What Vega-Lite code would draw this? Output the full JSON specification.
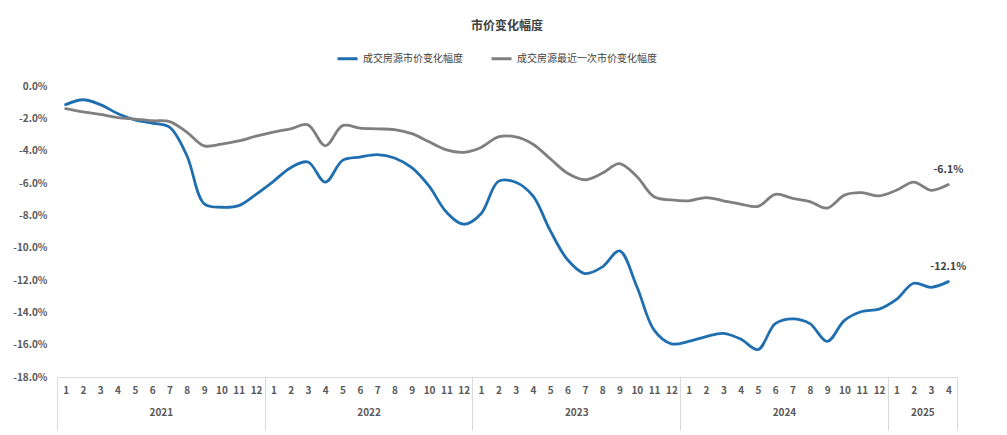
{
  "$schema": "https://vega.github.io/schema/vega-lite/v6.json",
  "autosize": {"type": "none"},
  "padding": {"left": 57, "top": 86, "right": 50, "bottom": 58},
  "width": 900,
  "height": 291,
  "background": "white",
  "title": {"text": "市价变化幅度", "anchor": "middle", "fontSize": 12, "fontWeight": "bold", "color": "#404040", "font": "Noto Sans CJK SC", "offset": 14},
  "config": {
    "view": {"stroke": null},
    "locale": {"number": {"decimal": ".", "thousands": ",", "grouping": [3], "currency": ["$", ""], "minus": "-"}},
    "axis": {"labelFont": "Noto Sans CJK SC", "labelFontWeight": "bold", "labelColor": "#595959", "labelFontSize": 10, "grid": false, "title": null},
    "axisY": {"labelOverlap": false, "labelBound": false, "labelFlush": false}
  },
  "data": {"values": [
    {"i":0,"month":"2021-01","series":"成交房源市价变化幅度","value":-0.0115},
    {"i":1,"month":"2021-02","series":"成交房源市价变化幅度","value":-0.0085},
    {"i":2,"month":"2021-03","series":"成交房源市价变化幅度","value":-0.0115},
    {"i":3,"month":"2021-04","series":"成交房源市价变化幅度","value":-0.017},
    {"i":4,"month":"2021-05","series":"成交房源市价变化幅度","value":-0.021},
    {"i":5,"month":"2021-06","series":"成交房源市价变化幅度","value":-0.023},
    {"i":6,"month":"2021-07","series":"成交房源市价变化幅度","value":-0.0255},
    {"i":7,"month":"2021-08","series":"成交房源市价变化幅度","value":-0.043},
    {"i":8,"month":"2021-09","series":"成交房源市价变化幅度","value":-0.0728},
    {"i":9,"month":"2021-10","series":"成交房源市价变化幅度","value":-0.075},
    {"i":10,"month":"2021-11","series":"成交房源市价变化幅度","value":-0.074},
    {"i":11,"month":"2021-12","series":"成交房源市价变化幅度","value":-0.067},
    {"i":12,"month":"2022-01","series":"成交房源市价变化幅度","value":-0.059},
    {"i":13,"month":"2022-02","series":"成交房源市价变化幅度","value":-0.0505},
    {"i":14,"month":"2022-03","series":"成交房源市价变化幅度","value":-0.047},
    {"i":15,"month":"2022-04","series":"成交房源市价变化幅度","value":-0.0595},
    {"i":16,"month":"2022-05","series":"成交房源市价变化幅度","value":-0.046},
    {"i":17,"month":"2022-06","series":"成交房源市价变化幅度","value":-0.044},
    {"i":18,"month":"2022-07","series":"成交房源市价变化幅度","value":-0.0425},
    {"i":19,"month":"2022-08","series":"成交房源市价变化幅度","value":-0.0445},
    {"i":20,"month":"2022-09","series":"成交房源市价变化幅度","value":-0.0505},
    {"i":21,"month":"2022-10","series":"成交房源市价变化幅度","value":-0.062},
    {"i":22,"month":"2022-11","series":"成交房源市价变化幅度","value":-0.078},
    {"i":23,"month":"2022-12","series":"成交房源市价变化幅度","value":-0.0855},
    {"i":24,"month":"2023-01","series":"成交房源市价变化幅度","value":-0.079},
    {"i":25,"month":"2023-02","series":"成交房源市价变化幅度","value":-0.059},
    {"i":26,"month":"2023-03","series":"成交房源市价变化幅度","value":-0.0595},
    {"i":27,"month":"2023-04","series":"成交房源市价变化幅度","value":-0.068},
    {"i":28,"month":"2023-05","series":"成交房源市价变化幅度","value":-0.0895},
    {"i":29,"month":"2023-06","series":"成交房源市价变化幅度","value":-0.1075},
    {"i":30,"month":"2023-07","series":"成交房源市价变化幅度","value":-0.116},
    {"i":31,"month":"2023-08","series":"成交房源市价变化幅度","value":-0.112},
    {"i":32,"month":"2023-09","series":"成交房源市价变化幅度","value":-0.102},
    {"i":33,"month":"2023-10","series":"成交房源市价变化幅度","value":-0.124},
    {"i":34,"month":"2023-11","series":"成交房源市价变化幅度","value":-0.151},
    {"i":35,"month":"2023-12","series":"成交房源市价变化幅度","value":-0.1595},
    {"i":36,"month":"2024-01","series":"成交房源市价变化幅度","value":-0.158},
    {"i":37,"month":"2024-02","series":"成交房源市价变化幅度","value":-0.155},
    {"i":38,"month":"2024-03","series":"成交房源市价变化幅度","value":-0.153},
    {"i":39,"month":"2024-04","series":"成交房源市价变化幅度","value":-0.1565},
    {"i":40,"month":"2024-05","series":"成交房源市价变化幅度","value":-0.163},
    {"i":41,"month":"2024-06","series":"成交房源市价变化幅度","value":-0.147},
    {"i":42,"month":"2024-07","series":"成交房源市价变化幅度","value":-0.144},
    {"i":43,"month":"2024-08","series":"成交房源市价变化幅度","value":-0.147},
    {"i":44,"month":"2024-09","series":"成交房源市价变化幅度","value":-0.158},
    {"i":45,"month":"2024-10","series":"成交房源市价变化幅度","value":-0.145},
    {"i":46,"month":"2024-11","series":"成交房源市价变化幅度","value":-0.1395},
    {"i":47,"month":"2024-12","series":"成交房源市价变化幅度","value":-0.138},
    {"i":48,"month":"2025-01","series":"成交房源市价变化幅度","value":-0.132},
    {"i":49,"month":"2025-02","series":"成交房源市价变化幅度","value":-0.122},
    {"i":50,"month":"2025-03","series":"成交房源市价变化幅度","value":-0.1245},
    {"i":51,"month":"2025-04","series":"成交房源市价变化幅度","value":-0.121},
    {"i":0,"month":"2021-01","series":"成交房源最近一次市价变化幅度","value":-0.014},
    {"i":1,"month":"2021-02","series":"成交房源最近一次市价变化幅度","value":-0.016},
    {"i":2,"month":"2021-03","series":"成交房源最近一次市价变化幅度","value":-0.0175},
    {"i":3,"month":"2021-04","series":"成交房源最近一次市价变化幅度","value":-0.0195},
    {"i":4,"month":"2021-05","series":"成交房源最近一次市价变化幅度","value":-0.0205},
    {"i":5,"month":"2021-06","series":"成交房源最近一次市价变化幅度","value":-0.0215},
    {"i":6,"month":"2021-07","series":"成交房源最近一次市价变化幅度","value":-0.022},
    {"i":7,"month":"2021-08","series":"成交房源最近一次市价变化幅度","value":-0.0285},
    {"i":8,"month":"2021-09","series":"成交房源最近一次市价变化幅度","value":-0.037},
    {"i":9,"month":"2021-10","series":"成交房源最近一次市价变化幅度","value":-0.036},
    {"i":10,"month":"2021-11","series":"成交房源最近一次市价变化幅度","value":-0.034},
    {"i":11,"month":"2021-12","series":"成交房源最近一次市价变化幅度","value":-0.031},
    {"i":12,"month":"2022-01","series":"成交房源最近一次市价变化幅度","value":-0.0285},
    {"i":13,"month":"2022-02","series":"成交房源最近一次市价变化幅度","value":-0.0265},
    {"i":14,"month":"2022-03","series":"成交房源最近一次市价变化幅度","value":-0.024},
    {"i":15,"month":"2022-04","series":"成交房源最近一次市价变化幅度","value":-0.037},
    {"i":16,"month":"2022-05","series":"成交房源最近一次市价变化幅度","value":-0.0245},
    {"i":17,"month":"2022-06","series":"成交房源最近一次市价变化幅度","value":-0.026},
    {"i":18,"month":"2022-07","series":"成交房源最近一次市价变化幅度","value":-0.0265},
    {"i":19,"month":"2022-08","series":"成交房源最近一次市价变化幅度","value":-0.027},
    {"i":20,"month":"2022-09","series":"成交房源最近一次市价变化幅度","value":-0.0295},
    {"i":21,"month":"2022-10","series":"成交房源最近一次市价变化幅度","value":-0.0345},
    {"i":22,"month":"2022-11","series":"成交房源最近一次市价变化幅度","value":-0.0395},
    {"i":23,"month":"2022-12","series":"成交房源最近一次市价变化幅度","value":-0.041},
    {"i":24,"month":"2023-01","series":"成交房源最近一次市价变化幅度","value":-0.038},
    {"i":25,"month":"2023-02","series":"成交房源最近一次市价变化幅度","value":-0.0315},
    {"i":26,"month":"2023-03","series":"成交房源最近一次市价变化幅度","value":-0.0315},
    {"i":27,"month":"2023-04","series":"成交房源最近一次市价变化幅度","value":-0.036},
    {"i":28,"month":"2023-05","series":"成交房源最近一次市价变化幅度","value":-0.045},
    {"i":29,"month":"2023-06","series":"成交房源最近一次市价变化幅度","value":-0.054},
    {"i":30,"month":"2023-07","series":"成交房源最近一次市价变化幅度","value":-0.058},
    {"i":31,"month":"2023-08","series":"成交房源最近一次市价变化幅度","value":-0.054},
    {"i":32,"month":"2023-09","series":"成交房源最近一次市价变化幅度","value":-0.048},
    {"i":33,"month":"2023-10","series":"成交房源最近一次市价变化幅度","value":-0.056},
    {"i":34,"month":"2023-11","series":"成交房源最近一次市价变化幅度","value":-0.0685},
    {"i":35,"month":"2023-12","series":"成交房源最近一次市价变化幅度","value":-0.0705},
    {"i":36,"month":"2024-01","series":"成交房源最近一次市价变化幅度","value":-0.071},
    {"i":37,"month":"2024-02","series":"成交房源最近一次市价变化幅度","value":-0.069},
    {"i":38,"month":"2024-03","series":"成交房源最近一次市价变化幅度","value":-0.071},
    {"i":39,"month":"2024-04","series":"成交房源最近一次市价变化幅度","value":-0.073},
    {"i":40,"month":"2024-05","series":"成交房源最近一次市价变化幅度","value":-0.0745},
    {"i":41,"month":"2024-06","series":"成交房源最近一次市价变化幅度","value":-0.067},
    {"i":42,"month":"2024-07","series":"成交房源最近一次市价变化幅度","value":-0.0695},
    {"i":43,"month":"2024-08","series":"成交房源最近一次市价变化幅度","value":-0.0715},
    {"i":44,"month":"2024-09","series":"成交房源最近一次市价变化幅度","value":-0.0755},
    {"i":45,"month":"2024-10","series":"成交房源最近一次市价变化幅度","value":-0.0675},
    {"i":46,"month":"2024-11","series":"成交房源最近一次市价变化幅度","value":-0.066},
    {"i":47,"month":"2024-12","series":"成交房源最近一次市价变化幅度","value":-0.068},
    {"i":48,"month":"2025-01","series":"成交房源最近一次市价变化幅度","value":-0.0645},
    {"i":49,"month":"2025-02","series":"成交房源最近一次市价变化幅度","value":-0.0595},
    {"i":50,"month":"2025-03","series":"成交房源最近一次市价变化幅度","value":-0.0645},
    {"i":51,"month":"2025-04","series":"成交房源最近一次市价变化幅度","value":-0.061}
  ]},
  "layer": [
    {
      "mark": {"type": "line", "interpolate": "catmull-rom", "strokeWidth": 2.8, "strokeCap": "round"},
      "encoding": {
        "x": {"field": "i", "type": "quantitative",
          "scale": {"domain": [-0.5, 51.5], "nice": false, "zero": false},
          "axis": {
            "orient": "bottom",
            "values": [-0.5,0,1,2,3,4,5,6,7,8,9,10,11,11.5,12,13,14,15,16,17,18,19,20,21,22,23,23.5,24,25,26,27,28,29,30,31,32,33,34,35,35.5,36,37,38,39,40,41,42,43,44,45,46,47,47.5,48,49,50,51,51.5],
            "labelExpr": "abs(datum.value % 1) == 0.5 ? '' : (datum.value < 48 ? '' + (datum.value % 12 + 1) : '' + (datum.value - 47))",
            "labelFlush": false, "labelOverlap": false, "labelBound": false,
            "domain": true, "domainColor": "#d9d9d9", "domainWidth": 1,
            "ticks": true, "tickSize": 53, "tickColor": "#d9d9d9", "tickWidth": 1,
            "tickOpacity": {"condition": {"test": "abs(datum.value % 1) == 0.5", "value": 1}, "value": 0},
            "labelPadding": -45
          }
        },
        "y": {"field": "value", "type": "quantitative",
          "scale": {"domain": [-0.18, 0], "nice": false, "zero": false},
          "axis": {"values": [0,-0.02,-0.04,-0.06,-0.08,-0.1,-0.12,-0.14,-0.16,-0.18], "format": ".1%", "domain": false, "ticks": false, "labelPadding": 10, "labelOverlap": false, "labelBound": false, "labelFlush": false}
        },
        "color": {"field": "series", "type": "nominal",
          "scale": {"domain": ["成交房源市价变化幅度", "成交房源最近一次市价变化幅度"], "range": ["#1f6eb0", "#7f7f7f"]},
          "legend": {"title": null, "orient": "none", "legendX": 279, "legendY": -39, "direction": "horizontal",
            "symbolType": "stroke", "symbolSize": 400, "symbolStrokeWidth": 3, "labelFont": "Noto Sans CJK SC", "labelFontSize": 10, "labelColor": "#404040", "labelOffset": 4, "columnPadding": 22, "labelLimit": 300}
        }
      }
    },
    {
      "transform": [{"filter": "datum.i == 51"}],
      "mark": {"type": "text", "dy": -15, "align": "center", "font": "Noto Sans CJK SC", "fontSize": 10.5, "fontWeight": "bold", "color": "#404040"},
      "encoding": {
        "x": {"field": "i", "type": "quantitative",
          "axis": {"orient": "bottom", "values": [5.5, 17.5, 29.5, 41.5, 49.5],
            "labelExpr": "datum.value < 12 ? '2021' : datum.value < 24 ? '2022' : datum.value < 36 ? '2023' : datum.value < 48 ? '2024' : '2025'",
            "labelFlush": false, "labelOverlap": false, "labelBound": false,
            "domain": false, "ticks": false, "labelPadding": 30}
        },
        "y": {"field": "value", "type": "quantitative",
          "axis": {"values": [0,-0.02,-0.04,-0.06,-0.08,-0.1,-0.12,-0.14,-0.16,-0.18], "format": ".1%", "domain": false, "ticks": false, "labelPadding": 10, "labelOverlap": false, "labelBound": false, "labelFlush": false}
        },
        "text": {"field": "value", "type": "quantitative", "format": ".1%"}
      }
    }
  ],
  "resolve": {"axis": {"x": "independent"}}
}
